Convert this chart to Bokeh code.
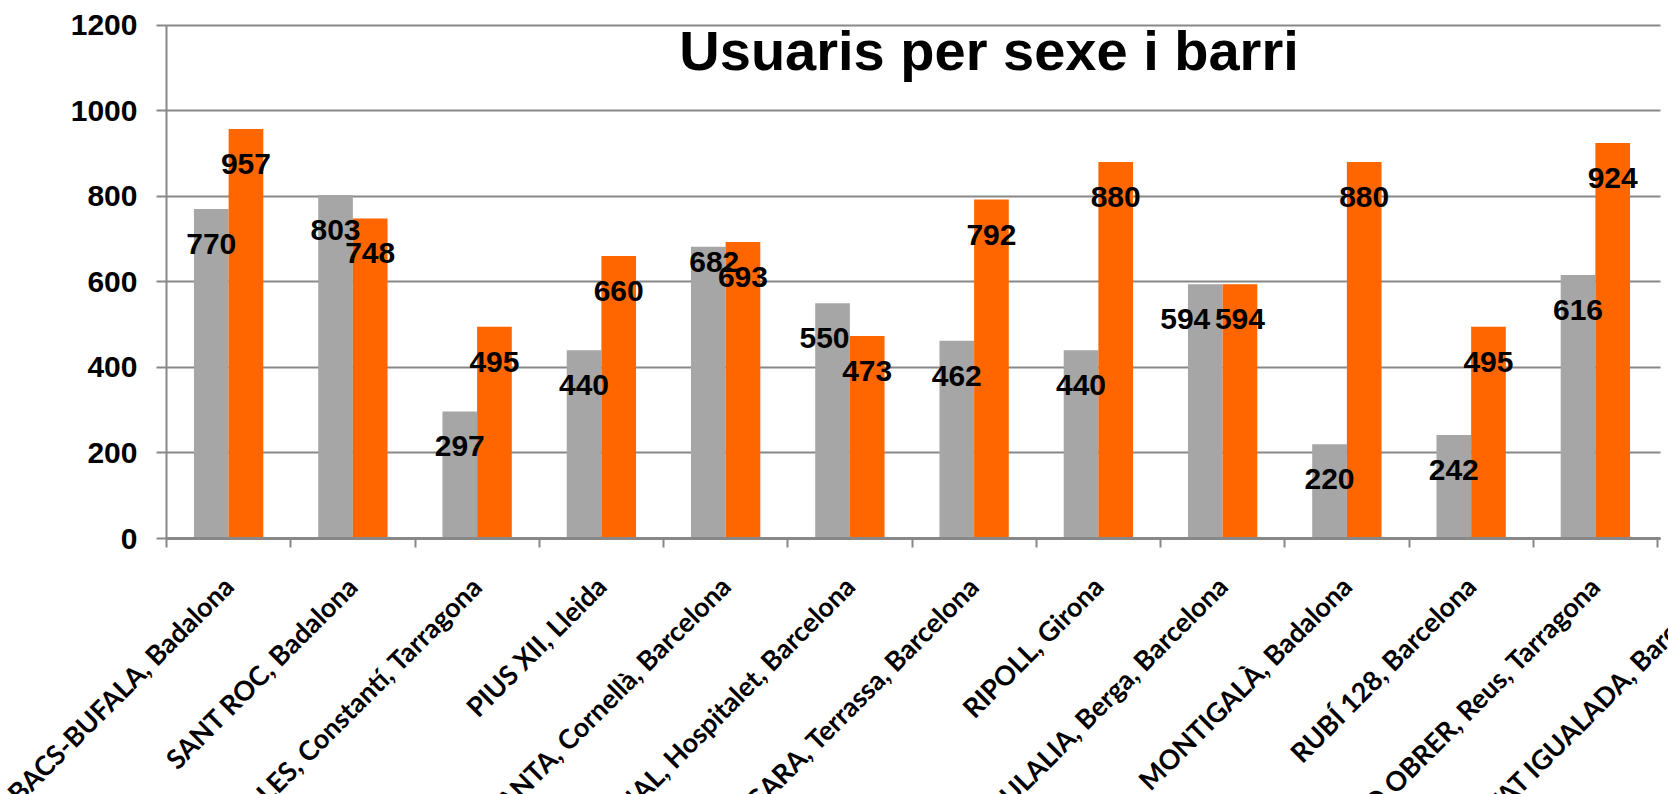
import math
import numpy as np
from bokeh.plotting import figure
from bokeh.models import (ColumnDataSource, LabelSet, FixedTicker, Range1d,
                          CustomJSTickFormatter, LinearAxis, Grid)
from bokeh.embed import file_html
from bokeh.resources import INLINE
from bokeh.core.properties import value

# ---------------- data ----------------
title_text = "Usuaris per sexe i barri"
categories = [
    "BACS-BUFALA, Badalona",
    "SANT ROC, Badalona",
    "LES, Constantí, Tarragona",
    "PIUS XII, Lleida",
    "ANTA, Cornellà, Barcelona",
    "NAL, Hospitalet, Barcelona",
    "GARA, Terrassa, Barcelona",
    "RIPOLL, Girona",
    "EULALIA, Berga, Barcelona",
    "MONTIGALÀ, Badalona",
    "RUBÍ 128, Barcelona",
    "O OBRER, Reus, Tarragona",
    "TAT IGUALADA, Barcelona",
]
grey_values = [770, 803, 297, 440, 682, 550, 462, 440, 594, 220, 242, 616]
orange_values = [957, 748, 495, 660, 693, 473, 792, 880, 594, 880, 495, 924]
y_ticks = [0, 200, 400, 600, 800, 1000, 1200]

# ---------------- layout / style ----------------
W, H = 1668, 794
X0_PX, XN_PX = 166.0, 1657.0      # pixel position of first / last category boundary
YTOP_PX, Y0_PX = 24.5, 538.0      # pixel position of top tick / zero line
GREY = "#A6A6A6"
ORANGE = "#FF6600"
AXIS = "#888888"
n = len(grey_values)
centers = np.arange(n) + 0.5
bar_w = 0.279
# manual nudges of some value labels (pixels), as in the original chart
grey_dx = [0, 0, 0, 0, 6, -8, 0, 0, -20, 0, 0, 0]
grey_dy = [0, 0, 0, 0, 20, 0, 0, 0, 0, 0, 0, 0]

ux = (XN_PX - X0_PX) / n                       # px per category
uy = (Y0_PX - YTOP_PX) / y_ticks[-1]           # px per unit
x_range = Range1d(-X0_PX / ux, (W - X0_PX) / ux)
y_range = Range1d(-(H - Y0_PX) / uy, y_ticks[-1] + YTOP_PX / uy)

p = figure(width=W, height=H, frame_width=W, frame_height=H,
           x_range=x_range, y_range=y_range,
           x_axis_location=None, y_axis_location=None,
           output_backend="svg", toolbar_location=None, min_border=0)
p.title.visible = False
p.outline_line_color = None
p.background_fill_color = "white"
p.border_fill_color = "white"
p.xgrid.visible = False
p.ygrid.visible = False

# horizontal grid lines, limited to the plot area
x_end = n + 3 / ux
grid = Grid(dimension=1, ticker=FixedTicker(ticks=y_ticks),
            grid_line_color=AXIS, grid_line_width=2)
if "cross_bounds" in Grid.properties():
    grid.cross_bounds = (0, x_end)
p.add_layout(grid)

p.vbar(x=centers - bar_w / 2, top=grey_values, width=bar_w,
       fill_color=GREY, line_color=None)
p.vbar(x=centers + bar_w / 2, top=orange_values, width=bar_w,
       fill_color=ORANGE, line_color=None)

# y axis fixed at x = 0
yax = LinearAxis(fixed_location=0, ticker=FixedTicker(ticks=y_ticks),
                 bounds=(0, y_ticks[-1]))
yax.axis_line_color = AXIS
yax.axis_line_width = 2
yax.major_tick_line_color = AXIS
yax.major_tick_line_width = 2
yax.major_tick_out = 10
yax.major_tick_in = 0
yax.minor_tick_line_color = None
yax.major_label_text_font = "Liberation Sans"
yax.major_label_text_font_size = "30px"
yax.major_label_text_font_style = "bold"
yax.major_label_text_color = "black"
yax.major_label_standoff = 19
p.add_layout(yax, "left")

# x axis fixed at y = 0, ticks on category boundaries
xax = LinearAxis(fixed_location=0, ticker=FixedTicker(ticks=list(range(n + 1))),
                 bounds=(0, x_end))
xax.formatter = CustomJSTickFormatter(code="return ''")
xax.axis_line_color = AXIS
xax.axis_line_width = 3
xax.major_tick_line_color = AXIS
xax.major_tick_line_width = 2
xax.major_tick_out = 9
xax.major_tick_in = 0
xax.minor_tick_line_color = None
p.add_layout(xax, "below")

# category labels (rotated, below the axis)
cat_src = ColumnDataSource(dict(x=np.arange(len(categories)) + 0.5,
                                y=[0] * len(categories), text=categories))
p.add_layout(LabelSet(x="x", y="y", text="text", source=cat_src,
                      angle=math.pi / 4, text_align="right", text_baseline="top",
                      x_offset=-12, y_offset=-31,
                      text_font=value("Lato"), text_font_size="27px",
                      text_font_style="bold", text_color="black"))

# value labels
val_src = ColumnDataSource(dict(
    x=np.concatenate([centers - bar_w / 2, centers + bar_w / 2]),
    y=grey_values + orange_values,
    dx=grey_dx + [0] * n,
    dy=[d - 45 for d in grey_dy] + [-45] * n,
    text=[str(v) for v in grey_values + orange_values]))
p.add_layout(LabelSet(x="x", y="y", text="text", source=val_src,
                      x_offset="dx", y_offset="dy",
                      text_align="center", text_baseline="alphabetic",
                      text_font=value("Liberation Sans"), text_font_size="30px",
                      text_font_style="bold", text_color="black"))

# title inside the plot area
title_src = ColumnDataSource(dict(x=[6.62], y=[1095], text=[title_text]))
p.add_layout(LabelSet(x="x", y="y", text="text", source=title_src,
                      text_align="center", text_baseline="alphabetic",
                      text_font=value("Liberation Sans"), text_font_size="56px",
                      text_font_style="bold", text_color="black"))

open("out.html", "w").write(file_html(p, INLINE))
